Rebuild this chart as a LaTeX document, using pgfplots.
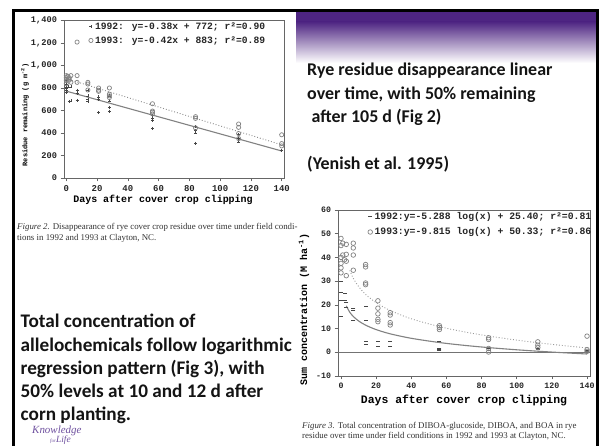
\documentclass[border=0pt]{standalone}
\usepackage{pgfplots}
\pgfplotsset{compat=1.18}
\usepackage{fontspec}
\setmainfont{Carlito}
\newfontfamily\monof{Liberation Mono}
\newfontfamily\capf{Liberation Serif}
\definecolor{banner}{RGB}{78,37,130}
\definecolor{logo}{RGB}{112,82,160}
\definecolor{ptA}{RGB}{70,70,70}
\definecolor{ptB}{RGB}{130,130,130}
\pgfplotsset{
  scanaxis/.style={
    scale only axis,
    axis line style={black!60, line width=0.6bp},
    tick style={black!60, line width=0.5bp},
    tick align=outside, major tick length=3.5bp,
    xtick pos=bottom, ytick pos=left,
    tick label style={text=black!85},
    legend cell align=left,
    legend style={draw=none, fill=none, inner sep=0pt, text=black!85},
  }
}
\begin{document}
\begin{tikzpicture}
\begin{scope}[x=1bp,y=1bp]
\useasboundingbox (0,0) rectangle (602,446);
\fill[white] (0,0) rectangle (602,446);
% banner
\fill[banner] (296,436) rectangle (597,424);
\shade[top color=banner, bottom color=white] (296,424.2) rectangle (597,383);
% frame
\draw[black, line width=3bp] (13.5,-5) -- (13.5,435.5) -- (597.5,435.5) -- (597.5,-5);
\end{scope}

% ---------------- Figure 2 ----------------
\begin{axis}[scanaxis,
  at={(64bp,425.5bp)}, anchor=north west, width=220bp, height=157.5bp,
  xmin=-1.5, xmax=141.5, ymin=0, ymax=1400,
  xtick={0,20,40,60,80,100,120,140},
  xticklabels={0,20,40,60,80,100,120,140},
  ytick={0,200,400,600,800,1000,1200,1400},
  yticklabels={0,200,400,600,800,{1,000},{1,200},{1,400}},
  xticklabel style={font=\monof\bfseries\fontsize{9}{9}\selectfont},
  yticklabel style={font=\monof\bfseries\fontsize{8.7}{9}\selectfont},
  xlabel={Days after cover crop clipping},
  ylabel={Residue remaining (g m\textsuperscript{-2})},
  xlabel style={font=\monof\bfseries\fontsize{10}{11}\selectfont, at={(rel axis cs:0.45,-0.14)}, anchor=center},
  ylabel style={font=\monof\bfseries\fontsize{7}{8}\selectfont, at={(rel axis cs:-0.177,0.40)}, anchor=center},
  legend style={at={(rel axis cs:0.112,1.0)}, anchor=north west, row sep=1.5bp,
    font=\monof\bfseries\fontsize{9.7}{10}\selectfont},
]
\addplot[ptB, line width=1.1bp, forget plot] coordinates {(0,772) (140,240)};
\addplot[black!45, line width=0.9bp, dotted, forget plot] coordinates {(0,883) (140,295)};
\addplot[only marks, mark=+, mark size=1.5bp, ptA, mark options={line width=0.6bp}] coordinates {
(0,866)(0,810)(0,780)(0,760)(0,800)(0,830)
(1,810)(2,680)(3,685)(3,810)
(7,780)(7,750)(7,690)
(14,780)(14,730)(14,700)(14,680)
(21,720)(21,580)(21,700)
(28,685)(28,630)(28,595)(28,730)
(56,553)(56,530)(56,510)(56,440)
(84,455)(84,420)(84,400)(84,310)
(112,390)(112,355)(112,320)
(140,245)};
\addlegendentry{1992: y=-0.38x + 772; r²=0.90}
\addplot[only marks, mark=o, mark size=2.1bp, ptB, mark options={line width=0.7bp}] coordinates {
(0,910)(0,893)(0,866)(0,839)(0,880)
(1,905)(2,890)(3,910)(3,850)(2,870)
(7,1208)(7,910)(7,850)
(14,850)(14,835)(14,782)
(21,800)(21,780)(21,770)
(28,800)(28,745)(28,715)(28,730)
(56,660)(56,595)(56,570)(56,585)
(84,545)(84,530)(84,445)
(112,480)(112,450)(112,395)(112,350)
(140,384)(140,306)(140,285)};
\addlegendentry{1993: y=-0.42x + 883; r²=0.89}
\end{axis}

% ---------------- Figure 3 ----------------
\begin{axis}[scanaxis,
  at={(338bp,236bp)}, anchor=north west, width=252bp, height=166bp,
  xmin=-1.7, xmax=141.7, ymin=-10, ymax=60,
  xtick={0,20,40,60,80,100,120,140},
  xticklabels={0,20,40,60,80,100,120,140},
  ytick={-10,0,10,20,30,40,50,60},
  yticklabels={-10,0,10,20,30,40,50,60},
  tick label style={font=\monof\bfseries\fontsize{8.3}{9}\selectfont},
  xlabel={Days after cover crop clipping},
  ylabel={Sum concentration (M ha\textsuperscript{-1})},
  xlabel style={font=\monof\bfseries\fontsize{11.5}{12}\selectfont, at={(rel axis cs:0.5,-0.145)}, anchor=center},
  ylabel style={font=\monof\bfseries\fontsize{10}{11}\selectfont, at={(rel axis cs:-0.135,0.40)}, anchor=center},
  legend style={at={(rel axis cs:0.118,1.0)}, anchor=north west, row sep=3bp,
    font=\monof\bfseries\fontsize{9.8}{10}\selectfont},
]
\addplot[black!55, line width=0.6bp, forget plot] coordinates {(-1.7,0) (141.7,0)};
\addplot[ptB, line width=1.1bp, smooth, forget plot] coordinates {
(3,19.59)(5,16.89)(7,15.11)(10,13.22)(14,11.44)(20,9.56)(28,7.78)(40,5.89)
(56,4.11)(70,2.93)(84,1.97)(100,1.05)(112,0.45)(126,-0.17)(140,-0.73)};
\addplot[black!40, line width=0.9bp, dotted, smooth, forget plot] coordinates {
(5,34.53)(7,31.23)(10,27.73)(14,24.43)(20,20.93)(28,17.62)(40,14.12)
(56,10.82)(70,8.63)(84,6.84)(100,5.13)(112,4.02)(126,2.86)(140,1.83)};
\addplot[only marks, mark=-, mark size=2bp, ptA, mark options={line width=0.9bp}] coordinates {
(0,30)(0,25.2)(0,22)(0,15)
(2,25)(2,22)(3,21)(3,19)
(7,18.6)(7,17.6)(7,13.3)
(14,19.3)(14,13.3)(14,4.4)(14,3.4)
(21,4.4)(21,2.3)
(28,4.4)(28,2.3)
(56,4.4)(56,1.8)(56,1.1)(56,0.6)
(84,1.6)(84,0.9)
(112,1.8)(112,1.1)
(140,0.9)(140,0.4)};
\addlegendentry{1992:y=-5.288 log(x) + 25.40; r²=0.81}
\addplot[only marks, mark=o, mark size=2.3bp, ptB, mark options={line width=0.7bp}] coordinates {
(0,48)(0,45)(0,40)(0,37.5)(0,35.6)(0,33.5)
(1,46)(1,41)(2,39)
(3,45.5)(3,41.3)(3,38.4)(3,32.3)
(7,46)(7,44)(7,41)(7,34.6)
(14,37)(14,36)(14,29.2)(14,28.5)
(21,21.7)(21,18.6)(21,16.2)(21,13.9)(21,12.9)
(28,16.7)(28,15.7)(28,12.5)(28,11.5)
(56,11.2)(56,10.5)(56,9.6)
(84,6.1)(84,5.4)(84,1.6)(84,0.1)
(112,4.4)(112,3.0)(112,2.0)
(140,6.8)(140,1.1)(140,0.4)};
\addlegendentry{1993:y=-9.815 log(x) + 50.33; r²=0.86}
\end{axis}

\begin{scope}[x=1bp,y=1bp]
% ---------------- captions ----------------
\node[anchor=base west, inner sep=0pt, font=\capf\fontsize{8.9}{9}\selectfont, text=black!80] at (17,216)
  {\textit{Figure 2.} Disappearance of rye cover crop residue over time under field condi-};
\node[anchor=base west, inner sep=0pt, font=\capf\fontsize{8.9}{9}\selectfont, text=black!80] at (17,205.5)
  {tions in 1992 and 1993 at Clayton, NC.};
\node[anchor=base west, inner sep=0pt, font=\capf\fontsize{8.9}{9}\selectfont, text=black!80] at (302,17)
  {\textit{Figure 3.} Total concentration of DIBOA-glucoside, DIBOA, and BOA in rye};
\node[anchor=base west, inner sep=0pt, font=\capf\fontsize{8.9}{9}\selectfont, text=black!80] at (302,7.5)
  {residue over time under field conditions in 1992 and 1993 at Clayton, NC.};

% ---------------- slide text ----------------
\begin{scope}[every node/.style={anchor=base west, inner sep=0pt, text=black!92, font=\bfseries\fontsize{18}{22}\selectfont}]
\node at (307,370) {Rye residue disappearance linear};
\node at (307,346.5) {over time, with 50\% remaining};
\node at (311.5,323) {after 105 d (Fig 2)};
\node at (307,276) {(Yenish et al. 1995)};
\end{scope}
\begin{scope}[every node/.style={anchor=base west, inner sep=0pt, text=black!92, font=\bfseries\fontsize{19.3}{22}\selectfont}]
\node at (20.5,118) {Total concentration of};
\node at (20.5,94.5) {allelochemicals follow logarithmic};
\node at (20.5,71) {regression pattern (Fig 3), with};
\node at (20.5,48) {50\% levels at 10 and 12 d after};
\node at (20.5,25) {corn planting.};
\end{scope}
% logo
\node[anchor=base west, inner sep=0pt, text=logo, font=\capf\itshape\fontsize{11}{11}\selectfont] at (32,12) {Knowledge};
\node[anchor=base west, inner sep=0pt, text=logo, font=\capf\itshape\fontsize{9.5}{9.5}\selectfont] at (50,3) {{\fontsize{5}{5}\selectfont for}Life};
\end{scope}
\end{tikzpicture}
\end{document}
